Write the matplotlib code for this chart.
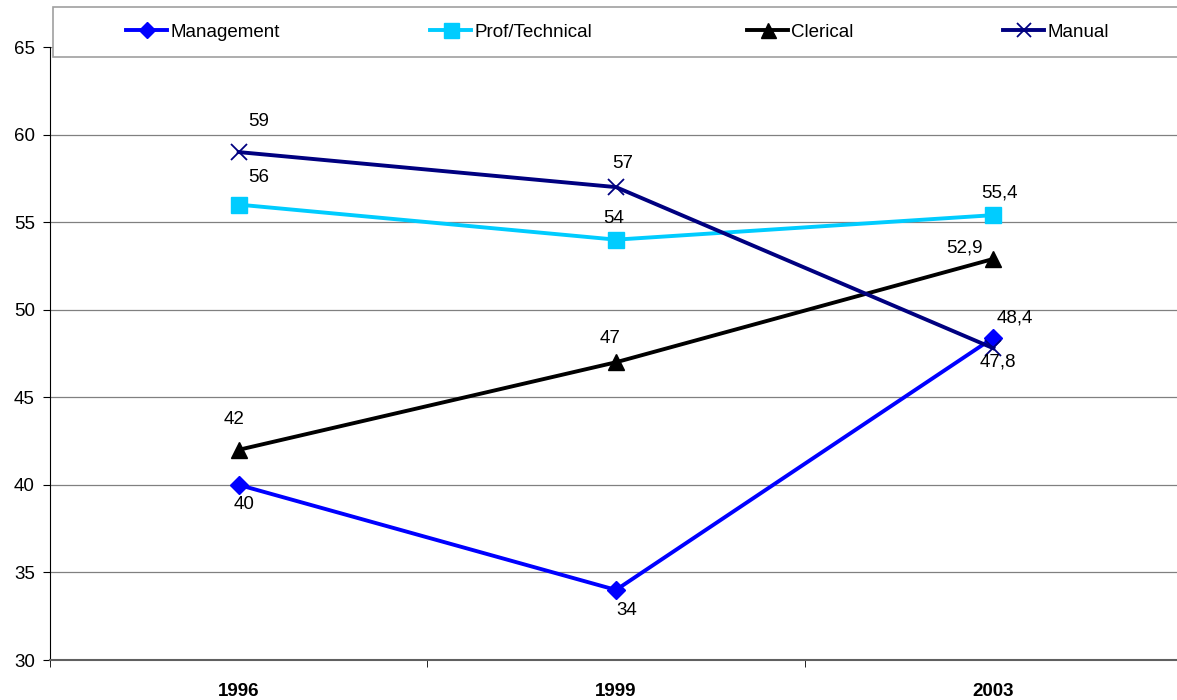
import matplotlib.pyplot as plt
from matplotlib.patches import Rectangle

plt.rcParams['font.family'] = ['Liberation Sans', 'DejaVu Sans']
plt.rcParams['font.size'] = 13.5

years = ["1996", "1999", "2003"]
management = [40, 34, 48.4]
prof_technical = [56, 54, 55.4]
clerical = [42, 47, 52.9]
manual = [59, 57, 47.8]

W, H = 1177, 700
fig = plt.figure(figsize=(W / 100, H / 100), dpi=100)
ax = fig.add_axes([50 / W, 1 - 660 / H, 1132 / W, 613 / H])

x = range(len(years))

h1, = ax.plot(x, management, c="#0000FF", lw=2.8, marker="D", ms=9.5, label="Management")
h2, = ax.plot(x, prof_technical, c="#00CCFF", lw=2.8, marker="s", ms=12, label="Prof/Technical")
h3, = ax.plot(x, clerical, c="black", lw=2.8, marker="^", ms=12, label="Clerical")
h4, = ax.plot(x, manual, c="#000080", lw=2.8, marker="x", ms=11.5, mew=1.3, label="Manual")


def fmt(v):
    return "{:g}".format(v).replace(".", ",")


# Versatz der Werte-Beschriftungen in Pixeln (dx, dy nach unten positiv)
offsets = {
    "management": [(5, 20), (11, 21), (21, -20)],
    "prof": [(20, -27), (-2, -21), (6, -22)],
    "clerical": [(-5, -30), (-6, -24), (-29, -11)],
    "manual": [(20, -31), (7, -24), (5, 14)],
}
series = [("management", management), ("prof", prof_technical),
          ("clerical", clerical), ("manual", manual)]
for name, vals in series:
    for i, v in enumerate(vals):
        dx, dy = offsets[name][i]
        ax.annotate(fmt(v), (i, v), xytext=(dx * 0.72, -dy * 0.72),
                    textcoords="offset points", ha="center", va="center")

ax.set_xlim(-0.5, 2.5)
ax.set_ylim(30, 65)
ax.set_yticks(range(30, 66, 5))
ax.set_xticks(list(x))
ax.set_xticklabels(years, fontweight="bold")
ax.set_xticks([-0.5, 0.5, 1.5, 2.5], minor=True)
ax.tick_params(axis="x", which="major", length=0, pad=16.5)
ax.tick_params(axis="x", which="minor", length=5, direction="out")
ax.tick_params(axis="y", length=5, direction="out", pad=6)
ax.yaxis.grid(True, color="#808080", lw=0.9)
ax.set_axisbelow(True)
for side in ["top", "right"]:
    ax.spines[side].set_visible(False)
ax.spines["bottom"].set_color("#606060")
ax.spines["bottom"].set_linewidth(1.5)

# Legendenrahmen und Eintraege einzeln platziert
fig.patches.append(Rectangle((53 / W, 1 - 57 / H), 1130 / W, 50 / H,
                             transform=fig.transFigure, facecolor="white",
                             edgecolor="#A0A0A0", lw=1.2, zorder=3))
for h, px in zip([h1, h2, h3, h4], [126, 430, 747, 1003]):
    fig.legend(handles=[h], loc="center left", bbox_to_anchor=(px / W, 1 - 32 / H),
               bbox_transform=fig.transFigure, frameon=False, borderpad=0,
               borderaxespad=0, handlelength=2.2, handletextpad=0.15,
               markerscale=0.9)

fig.savefig("out.png", dpi=100)
